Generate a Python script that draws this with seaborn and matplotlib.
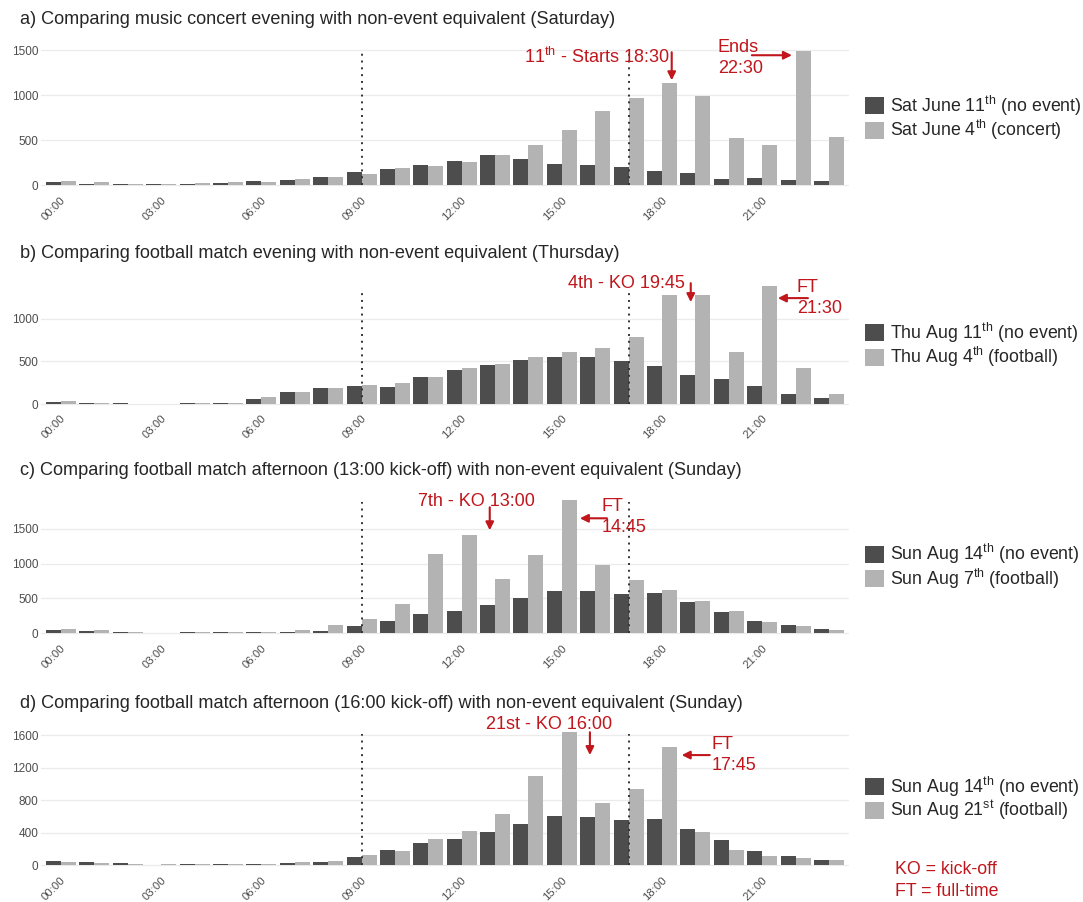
"""
Hourly counts on event days vs. non-event equivalent days (four panels).
"""

import seaborn as sns
import matplotlib.pyplot as plt
import matplotlib.transforms as mtransforms
import pandas as pd

# Colours
DARK = '#4D4D4D'
LIGHT = '#B3B3B3'
RED = '#C0161C'
TICK_GREY = '#4D4D4D'

sns.set_style('white')
plt.rcParams['font.family'] = ['Liberation Sans', 'DejaVu Sans']
plt.rcParams['mathtext.fontset'] = 'custom'
plt.rcParams['mathtext.rm'] = 'Liberation Sans'
plt.rcParams['mathtext.it'] = 'Liberation Sans:italic'

# Shared axis data
HOURS = [0, 1, 2, 3, 4, 5, 6, 7, 8, 9, 10, 11, 12, 13, 14, 15, 16, 17, 18, 19, 20, 21, 22, 23]
TICK_LABELS = ['00:00', '', '', '03:00', '', '', '06:00', '', '', '09:00', '', '',
               '12:00', '', '', '15:00', '', '', '18:00', '', '', '21:00', '', '']
WORK_HOURS = [9, 17]

# a) concert
A_TITLE = 'a) Comparing music concert evening with non-event equivalent (Saturday)'
A_LABELS = ['Sat June 11$^{\\mathrm{th}}$ (no event)', 'Sat June 4$^{\\mathrm{th}}$ (concert)']
A_BASE = [37, 18, 18, 11, 11, 22, 48, 55, 92, 152, 185, 230, 270, 333, 293, 241, 230, 204, 159, 133, 74, 81, 63, 44]
A_EVENT = [44, 33, 11, 11, 22, 33, 37, 67, 92, 122, 189, 219, 263, 333, 448, 611, 819, 967, 1133, 996, 530, 452, 1493, 541]
A_YTICKS = [0, 500, 1000, 1500]
A_DOTTED_TOP = 1476

# b) football evening
B_TITLE = 'b) Comparing football match evening with non-event equivalent (Thursday)'
B_LABELS = ['Thu Aug 11$^{\\mathrm{th}}$ (no event)', 'Thu Aug 4$^{\\mathrm{th}}$ (football)']
B_BASE = [20, 16, 8, 4, 8, 16, 55, 142, 189, 209, 201, 319, 402, 461, 512, 555, 555, 500, 441, 339, 295, 209, 122, 71]
B_EVENT = [31, 16, 4, 4, 8, 16, 79, 138, 189, 224, 248, 319, 425, 472, 547, 610, 657, 787, 1276, 1283, 614, 1386, 421, 114]
B_YTICKS = [0, 500, 1000]
B_DOTTED_TOP = 1336

# c) football 13:00 kick-off
C_TITLE = 'c) Comparing football match afternoon (13:00 kick-off) with non-event equivalent (Sunday)'
C_LABELS = ['Sun Aug 14$^{\\mathrm{th}}$ (no event)', 'Sun Aug 7$^{\\mathrm{th}}$ (football)']
C_BASE = [43, 34, 24, 10, 14, 14, 14, 24, 38, 100, 182, 273, 326, 407, 513, 604, 604, 561, 575, 450, 302, 172, 120, 57]
C_EVENT = [57, 43, 19, 10, 19, 24, 24, 43, 115, 206, 426, 1136, 1409, 786, 1121, 1917, 977, 762, 628, 465, 326, 168, 110, 43]
C_YTICKS = [0, 500, 1000, 1500]
C_DOTTED_TOP = 1880

# d) football 16:00 kick-off
D_TITLE = 'd) Comparing football match afternoon (16:00 kick-off) with non-event equivalent (Sunday)'
D_LABELS = ['Sun Aug 14$^{\\mathrm{th}}$ (no event)', 'Sun Aug 21$^{\\mathrm{st}}$ (football)']
D_BASE = [49, 41, 24, 8, 12, 16, 20, 29, 41, 98, 184, 269, 327, 404, 514, 604, 596, 563, 576, 449, 310, 180, 118, 65]
D_EVENT = [41, 33, 12, 16, 12, 12, 12, 45, 53, 122, 176, 320, 424, 629, 1102, 1645, 767, 935, 1453, 416, 184, 110, 94, 65]
D_YTICKS = [0, 400, 800, 1200, 1600]
D_DOTTED_TOP = 1614

FIG_W, FIG_H = 1083, 902


def px_rect(left, top, right, bottom):
    """Pixel box -> figure fraction rect."""
    return [left / FIG_W, 1 - bottom / FIG_H, (right - left) / FIG_W, (bottom - top) / FIG_H]


def plot_panel(fig, rect, title, title_y, labels, base, event, yticks, dotted_top, notes, arrows):
    ax = fig.add_axes(rect)
    df = pd.DataFrame({
        'hour': HOURS + HOURS,
        'count': base + event,
        'day': [labels[0]] * len(HOURS) + [labels[1]] * len(HOURS),
    })
    sns.barplot(data=df, x='hour', y='count', hue='day', palette=[DARK, LIGHT],
                width=0.9, linewidth=0, saturation=1, ax=ax)

    ymax = max(base + event)
    ax.set_ylim(-0.05 * ymax, 1.05 * ymax)
    ax.set_xlim(-0.6, 23.6)

    # working-day markers
    ax.vlines(WORK_HOURS, 0, dotted_top, colors='#333333', linestyles=(0, (1, 2.5)), lw=1.4, zorder=3)

    ax.set_xlabel('')
    ax.set_ylabel('')
    for s in ax.spines.values():
        s.set_visible(False)
    ax.set_yticks(yticks)
    ax.yaxis.grid(True, color='#EBEBEB', lw=0.9)
    ax.set_axisbelow(True)
    ax.tick_params(axis='y', length=0, labelsize=8.5, labelcolor=TICK_GREY, pad=2)
    ax.set_xticks(range(len(HOURS)))
    ax.set_xticklabels(TICK_LABELS, rotation=45, ha='right', va='center', rotation_mode='anchor')
    ax.tick_params(axis='x', length=3, width=0.8, color='#AAAAAA', labelsize=8.2,
                   labelcolor=TICK_GREY, pad=1.5)
    shift = mtransforms.ScaledTranslation(3 / 100, 0, fig.dpi_scale_trans)
    for lab in ax.get_xticklabels():
        lab.set_transform(lab.get_transform() + shift)

    handles, labs = ax.get_legend_handles_labels()
    ax.legend(handles, labs, loc='center left', bbox_to_anchor=(1.02, 0.5), frameon=False,
              fontsize=12.8, handlelength=1.05, handleheight=1.1, handletextpad=0.35,
              labelspacing=0.0, borderaxespad=0, borderpad=0)

    fig.text(20 / FIG_W, 1 - title_y / FIG_H, title, fontsize=13.1, va='center', ha='left')

    for x, y, txt, ha in notes:
        ax.text(x, y, txt, color=RED, fontsize=13, ha=ha, va='center', linespacing=1.3, clip_on=False)
    for (x0, y0), (x1, y1) in arrows:
        ax.annotate('', xy=(x1, y1), xytext=(x0, y0), annotation_clip=False,
                    arrowprops=dict(arrowstyle='-|>', color=RED, lw=1.5, mutation_scale=12,
                                    shrinkA=0, shrinkB=0))
    return ax


def main():
    fig = plt.figure(figsize=(FIG_W / 100, FIG_H / 100), dpi=100)
    fig.patch.set_facecolor('white')

    plot_panel(fig, px_rect(41, 44, 849, 192), A_TITLE, 20, A_LABELS, A_BASE, A_EVENT, A_YTICKS,
               A_DOTTED_TOP,
               [(18.23, 1420, '11$^{\\mathrm{th}}$ - Starts 18:30', 'right'),
                (19.67, 1410, 'Ends\n22:30', 'left')],
               [((18.29, 1476), (18.29, 1165)), ((20.69, 1443), (21.89, 1443))])

    plot_panel(fig, px_rect(41, 280, 849, 410), B_TITLE, 254, B_LABELS, B_BASE, B_EVENT, B_YTICKS,
               B_DOTTED_TOP,
               [(18.68, 1418, '4th - KO 19:45', 'right'),
                (22.04, 1243, 'FT\n21:30', 'left')],
               [((18.86, 1418), (18.86, 1196)), ((22.37, 1243), (21.47, 1243))])

    plot_panel(fig, px_rect(41, 493, 849, 640), C_TITLE, 470, C_LABELS, C_BASE, C_EVENT, C_YTICKS,
               C_DOTTED_TOP,
               [(14.19, 1894, '7th - KO 13:00', 'right'),
                (16.2, 1664, 'FT\n14:45', 'left')],
               [((12.84, 1808), (12.84, 1478)), ((16.35, 1650), (15.54, 1650))])

    plot_panel(fig, px_rect(41, 725, 849, 872), D_TITLE, 703, D_LABELS, D_BASE, D_EVENT, D_YTICKS,
               D_DOTTED_TOP,
               [(16.5, 1736, '21st - KO 16:00', 'right'),
                (19.49, 1357, 'FT\n17:45', 'left')],
               [((15.84, 1638), (15.84, 1357)), ((19.43, 1357), (18.59, 1357))])

    fig.text(895 / FIG_W, 1 - 869 / FIG_H, 'KO = kick-off', color=RED, fontsize=12.8, va='center')
    fig.text(895 / FIG_W, 1 - 892 / FIG_H, 'FT = full-time', color=RED, fontsize=12.8, va='center')

    fig.savefig('out.png', dpi=100, facecolor='white')
    plt.close(fig)


if __name__ == "__main__":
    main()
